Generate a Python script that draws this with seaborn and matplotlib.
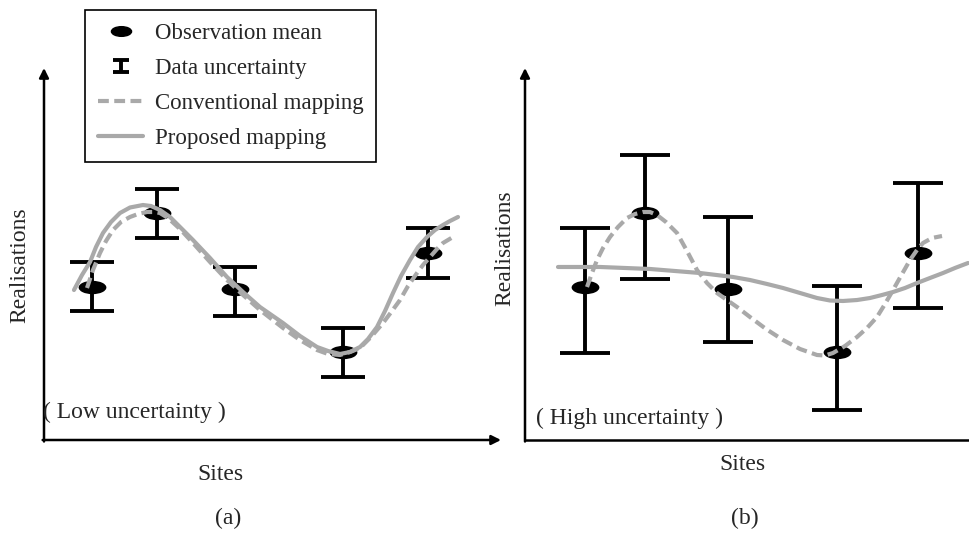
import matplotlib
matplotlib.use("Agg")
import numpy as np
import pandas as pd
import matplotlib.pyplot as plt
from matplotlib.path import Path
from matplotlib.markers import MarkerStyle
from matplotlib.lines import Line2D
import seaborn as sns

# ---- observations -------------------------------------------------------
sites_low = [10.5, 24.7, 41.8, 65.4, 84.0]      # site positions, panel (a)
sites_high = [13.1, 26.3, 44.4, 68.3, 86.0]     # site positions, panel (b)
obs_mean = [41.1, 61.0, 40.6, 23.7, 50.4]       # observation means

low_lower = [34.7, 54.3, 33.3, 16.9, 43.5]
low_upper = [47.8, 67.5, 46.5, 30.1, 57.0]
high_lower = [23.4, 43.3, 26.3, 8.1, 35.5]
high_upper = [57.0, 76.6, 59.9, 41.4, 69.1]

# ---- mapped realisations ------------------------------------------------
prop_low_x = [6.56, 8.32, 10.07, 11.38, 12.91, 14.66, 16.63, 18.82, 21.66, 23.41,
              25.38, 27.57, 29.98, 32.60, 36.32, 40.04, 43.55, 47.26, 52.30, 56.02,
              59.74, 62.15, 64.77, 66.96, 69.15, 70.90, 72.87, 74.62, 76.37, 78.12,
              80.09, 81.84, 83.81, 85.56, 87.31, 88.84, 90.59]
prop_low_y = [40.32, 44.36, 47.85, 51.88, 55.65, 58.60, 61.02, 62.50, 63.17, 62.90,
              61.83, 59.95, 56.99, 53.76, 48.93, 43.82, 39.78, 35.75, 31.45, 27.96,
              25.00, 23.93, 23.12, 23.66, 25.00, 27.15, 30.38, 34.68, 39.52, 44.09,
              48.39, 51.88, 54.57, 56.45, 57.80, 58.87, 59.95]

conv_low_x = [9.41, 10.72, 12.25, 13.57, 15.10, 16.85, 18.82, 20.57, 22.54, 24.29,
              25.38, 27.13, 29.76, 32.60, 36.32, 40.04, 43.55, 47.26, 52.30, 56.02,
              59.74, 62.15, 64.77, 66.96, 69.15, 71.55, 74.18, 76.15, 77.90, 79.65,
              81.62, 82.93, 84.46, 86.00, 87.31, 88.40, 89.50]
conv_low_y = [40.86, 45.70, 50.27, 53.50, 56.45, 58.60, 59.95, 60.75, 61.29, 61.29,
              61.02, 59.68, 56.72, 52.96, 47.85, 43.01, 38.98, 34.95, 30.11, 26.88,
              24.19, 23.12, 22.85, 23.66, 24.73, 27.69, 31.45, 34.68, 37.63, 41.40,
              44.89, 47.04, 49.19, 51.35, 52.96, 53.76, 54.57]

conv_high_x = [13.57, 14.66, 15.76, 17.07, 18.60, 20.35, 22.32, 24.07, 25.82, 27.35,
               28.88, 30.85, 33.26, 35.45, 37.64, 39.83, 42.01, 44.20, 46.39, 49.23,
               52.74, 56.46, 60.18, 63.90, 65.65, 67.40, 70.02, 72.65, 74.84, 77.02,
               78.78, 80.53, 82.50, 84.25, 85.78, 87.09, 89.06, 91.25]
conv_high_y = [41.13, 44.89, 48.39, 51.61, 54.57, 57.26, 59.68, 60.75, 61.29, 61.29,
               60.48, 58.60, 55.65, 50.81, 45.70, 42.20, 39.52, 37.63, 35.75, 33.06,
               29.84, 26.88, 24.46, 22.85, 22.72, 23.39, 25.27, 27.69, 30.11, 33.06,
               36.56, 40.32, 44.62, 48.39, 51.08, 52.96, 54.30, 54.84]

prop_high_x = [7.22, 16.41, 27.35, 38.29, 45.51, 49.23, 52.95, 56.46, 60.18, 63.90,
               66.74, 69.58, 72.65, 75.49, 78.12, 80.53, 83.15, 85.78, 88.62, 91.47,
               94.09, 96.94]
prop_high_y = [46.51, 46.51, 45.97, 44.89, 43.82, 43.01, 41.94, 40.86, 39.52, 38.17,
               37.50, 37.37, 37.63, 38.17, 38.98, 39.78, 40.86, 42.20, 43.55, 44.89,
               46.24, 47.58]

legend_labels = ["Observation mean", "Data uncertainty",
                 "Conventional mapping", "Proposed mapping"]

# ---- style --------------------------------------------------------------
sns.set_theme(style="white")
plt.rcParams["font.family"] = ["Liberation Serif", "DejaVu Serif"]

GREY = "#a9a9a9"
W, H = 970, 533
fig = plt.figure(figsize=(W / 100, H / 100), dpi=100)


def fx(px):
    return px / W


def fy(py):
    return 1 - py / H


circle = Path.unit_circle()
ellipse = MarkerStyle(Path(circle.vertices * np.array([1.0, 0.48]), circle.codes))
ibeam = Path([(-0.6, 0.5), (0.6, 0.5), (0, 0.5), (0, -0.5), (-0.6, -0.5), (0.6, -0.5)],
             [Path.MOVETO, Path.LINETO, Path.MOVETO, Path.LINETO, Path.MOVETO, Path.LINETO])


def draw_panel(ax, sites, lower, upper, conv_x, conv_y, prop_x, prop_y, capsize, arrow_x):
    ax.set_xlim(0, 100)
    ax.set_ylim(0, 100)
    ax.axis("off")

    mean = np.array(obs_mean)
    yerr = [mean - np.array(lower), np.array(upper) - mean]
    ax.errorbar(sites, mean, yerr=yerr, fmt="none", ecolor="black",
                elinewidth=2.8, capsize=capsize, capthick=2.8, zorder=2)

    obs = pd.DataFrame({"site": sites, "value": obs_mean})
    sns.scatterplot(data=obs, x="site", y="value", ax=ax, marker=ellipse,
                    s=400, color="black", edgecolor="black", linewidth=0, zorder=3,
                    legend=False)

    conv = pd.DataFrame({"site": conv_x, "value": conv_y})
    prop = pd.DataFrame({"site": prop_x, "value": prop_y})
    sns.lineplot(data=prop, x="site", y="value", ax=ax, color=GREY, lw=3.0,
                 sort=False, estimator=None, zorder=4)
    sns.lineplot(data=conv, x="site", y="value", ax=ax, color=GREY, lw=3.0,
                 sort=False, estimator=None, zorder=5)
    ax.lines[-1].set_dashes((2.6, 1.3))
    ax.set_xlabel("")
    ax.set_ylabel("")

    # axis arrows
    ax.annotate("", xy=(0, 1), xytext=(0, -0.004), xycoords="axes fraction",
                arrowprops=dict(arrowstyle="-|>", color="black", lw=1.8,
                                mutation_scale=14, shrinkA=0, shrinkB=0))
    if arrow_x:
        ax.annotate("", xy=(1, 0), xytext=(-0.003, 0), xycoords="axes fraction",
                    arrowprops=dict(arrowstyle="-|>", color="black", lw=1.8,
                                    mutation_scale=14, shrinkA=0, shrinkB=0))
    else:
        ax.plot([-0.003, 1], [0, 0], transform=ax.transAxes, color="black",
                lw=1.8, clip_on=False, solid_capstyle="butt")


ax_a = fig.add_axes([fx(44), fy(440), fx(457), 372 / H])
ax_b = fig.add_axes([fx(525), fy(440), fx(457), 372 / H])

draw_panel(ax_a, sites_low, low_lower, low_upper, conv_low_x, conv_low_y,
           prop_low_x, prop_low_y, capsize=16, arrow_x=True)
draw_panel(ax_b, sites_high, high_lower, high_upper, conv_high_x, conv_high_y,
           prop_high_x, prop_high_y, capsize=18, arrow_x=False)

FS = 17
fig.text(fx(20), fy(265), "Realisations", rotation=90, ha="center", va="center", fontsize=FS)
fig.text(fx(505), fy(248), "Realisations", rotation=90, ha="center", va="center", fontsize=FS)
fig.text(fx(220), fy(475), "Sites", ha="center", va="center", fontsize=FS)
fig.text(fx(742), fy(465), "Sites", ha="center", va="center", fontsize=FS)
fig.text(fx(228), fy(518), "(a)", ha="center", va="center", fontsize=FS)
fig.text(fx(745), fy(518), "(b)", ha="center", va="center", fontsize=FS)
fig.text(fx(43), fy(412), "( Low uncertainty )", ha="left", va="center", fontsize=FS)
fig.text(fx(536), fy(418), "( High uncertainty )", ha="left", va="center", fontsize=FS)

handles = [
    Line2D([], [], marker=ellipse, color="black", linestyle="none", markersize=14.5),
    Line2D([], [], marker=MarkerStyle(ibeam), color="black", linestyle="none",
           markersize=11, markeredgewidth=2.8, markerfacecolor="none"),
    Line2D([], [], color=GREY, lw=3.0, dashes=(2.6, 1.3)),
    Line2D([], [], color=GREY, lw=3.0),
]
leg = fig.legend(handles, legend_labels, loc="upper left",
                 bbox_to_anchor=(fx(85), fy(10)), bbox_transform=fig.transFigure,
                 frameon=True, fancybox=False, edgecolor="black", framealpha=1,
                 borderaxespad=0, handlelength=2.0, handletextpad=0.5,
                 labelspacing=0.62, borderpad=0.55, fontsize=16.5)
leg.get_frame().set_linewidth(1.2)

fig.savefig("out.png", dpi=100)
